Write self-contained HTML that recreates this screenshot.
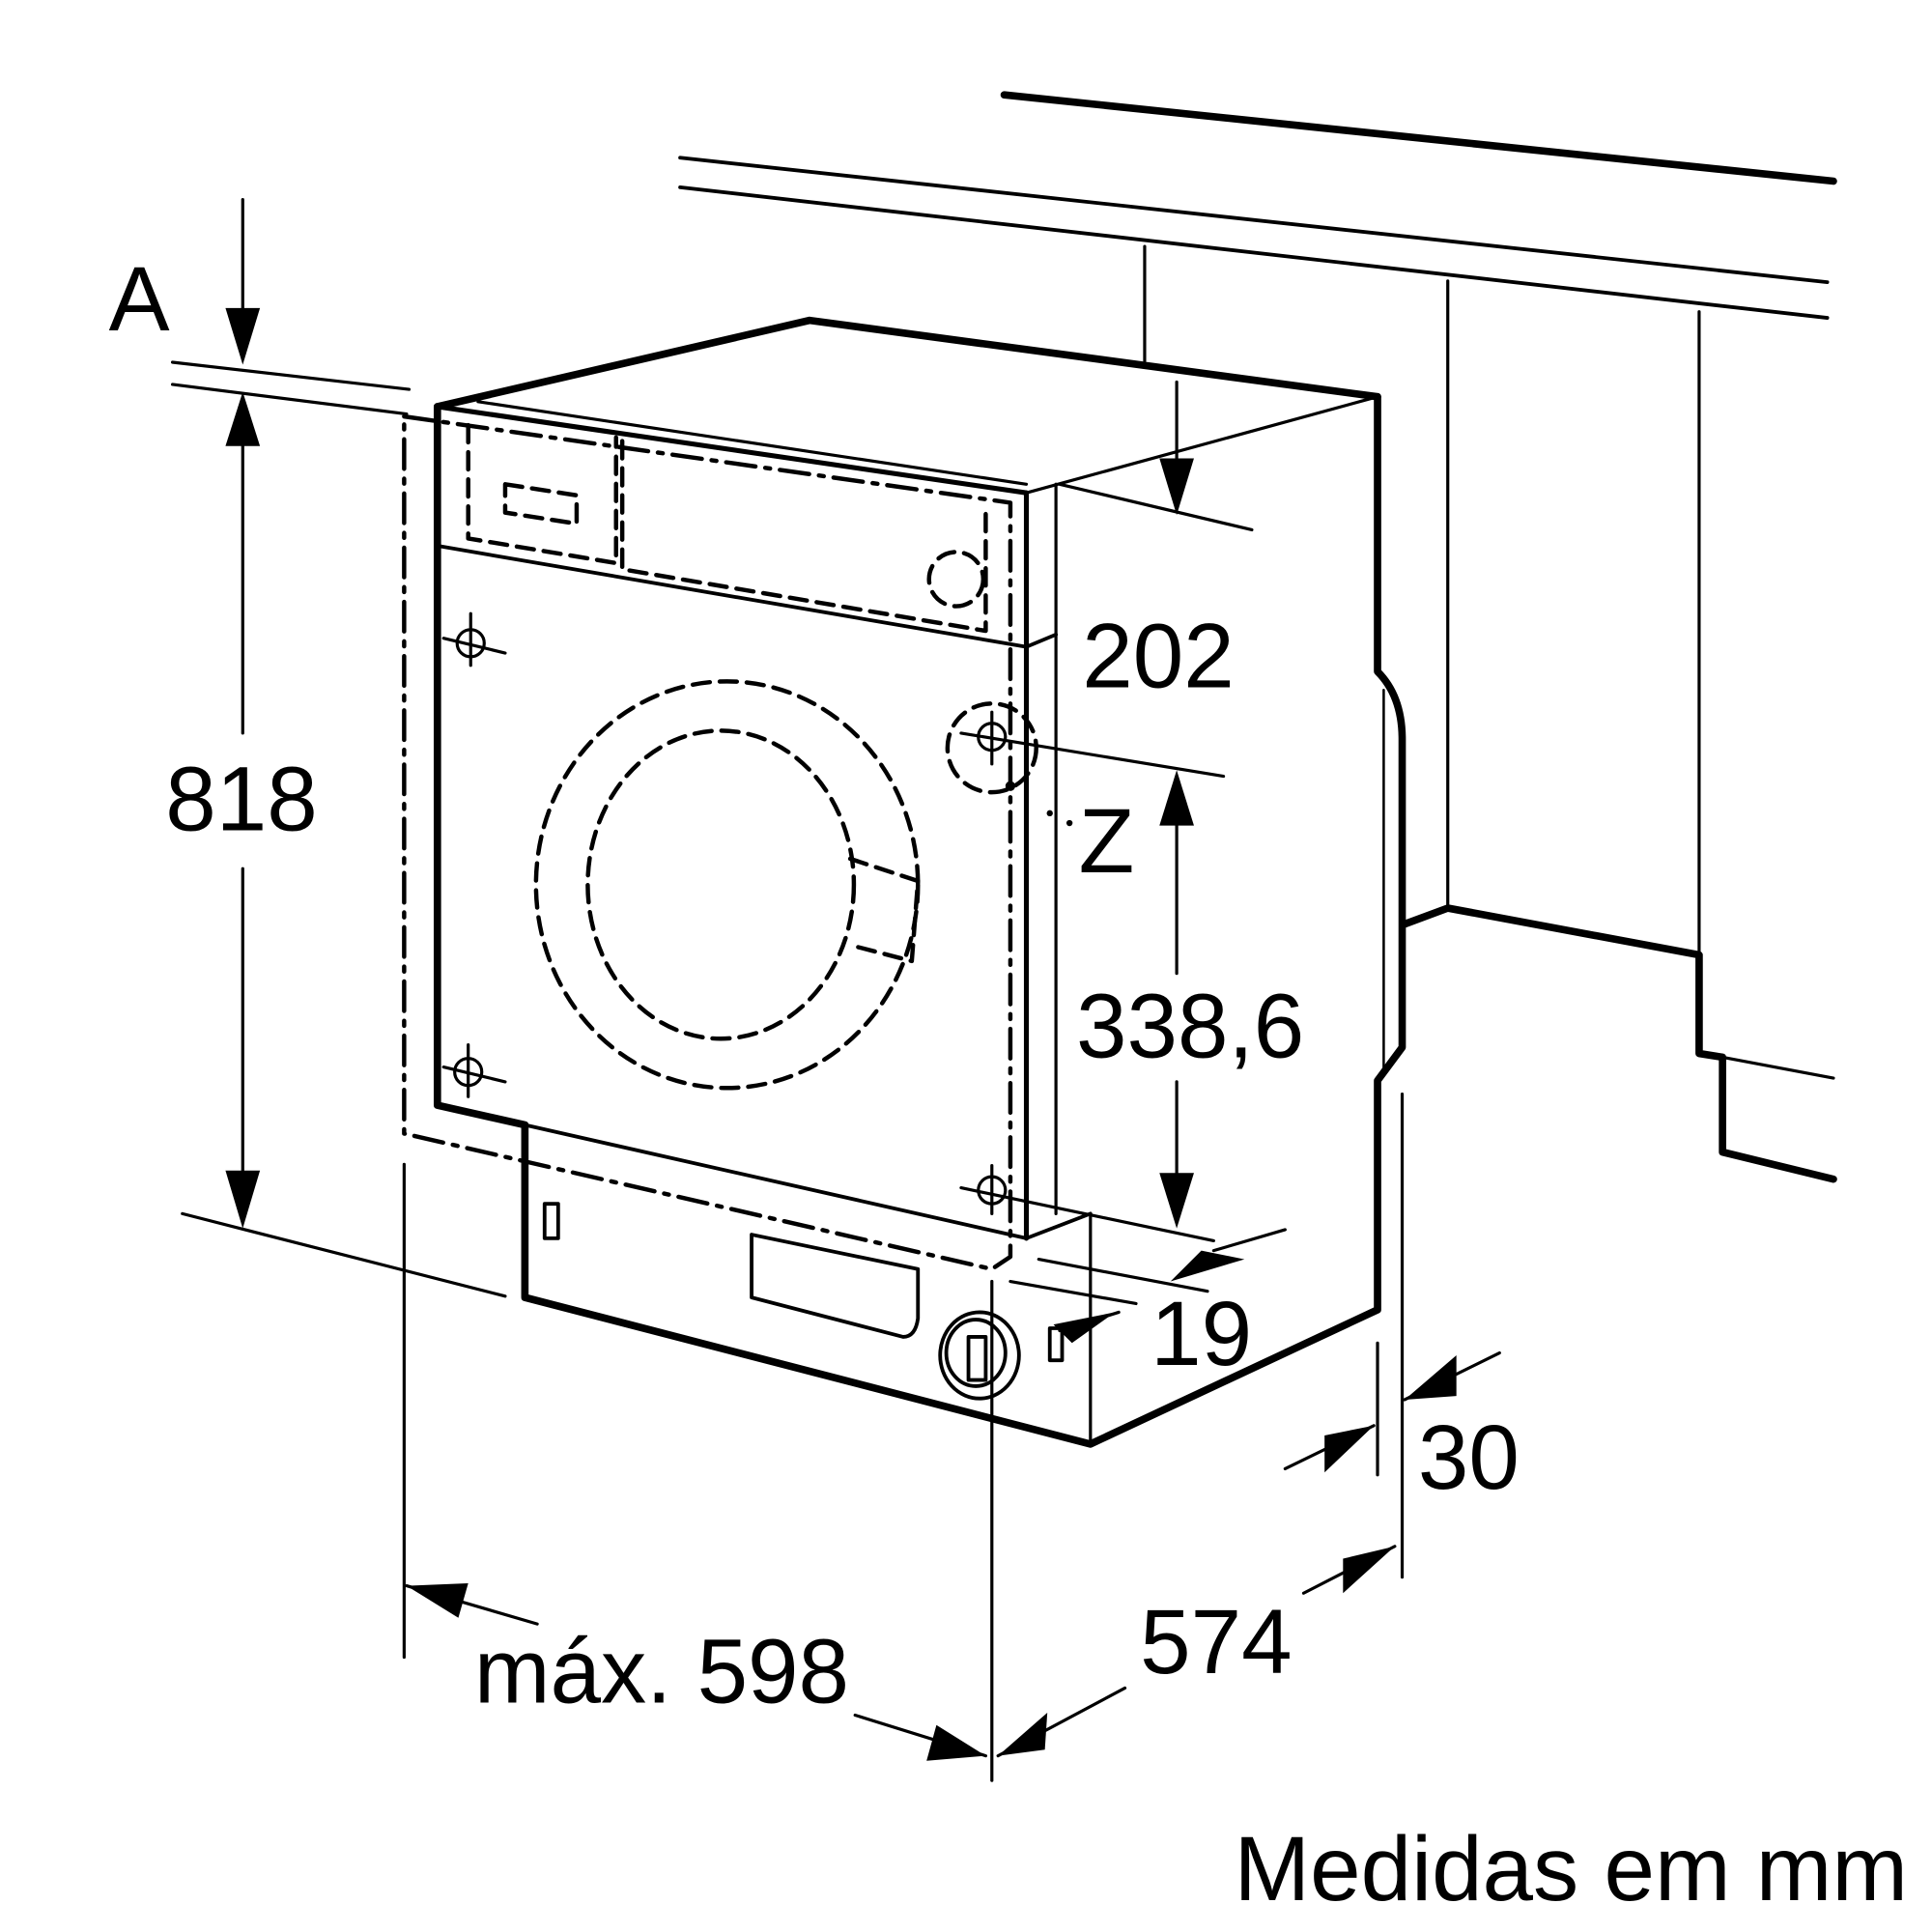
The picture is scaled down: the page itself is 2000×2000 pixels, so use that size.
<!DOCTYPE html>
<html><head><style>html,body{margin:0;padding:0;background:#fff}svg{display:block}</style></head><body>
<svg width="2000" height="2000" viewBox="0 0 1568 1568" xmlns="http://www.w3.org/2000/svg" font-family="Liberation Sans, sans-serif">
<g stroke="#000" fill="none" stroke-linecap="round" stroke-linejoin="round">
<line x1="815" y1="77" x2="1488" y2="147" stroke-width="6"/>
<line x1="552" y1="128" x2="1483" y2="229" stroke-width="3"/>
<line x1="552" y1="152" x2="1483" y2="258" stroke-width="3"/>
<line x1="929" y1="200" x2="929" y2="293" stroke-width="2.5"/>
<line x1="1175" y1="228" x2="1175" y2="737" stroke-width="2.5"/>
<line x1="1379" y1="253" x2="1379" y2="775" stroke-width="2.5"/>
<polyline points="1140,750 1175,737 1379,775 1379,855 1398,858 1398,935 1488,957" stroke-width="6"/>
<line x1="1398" y1="858" x2="1488" y2="875" stroke-width="2.5"/>
<polyline points="355,330 657,260 1118,322" stroke-width="6"/>
<path d="M1118,322 L1118,545 Q1138,565 1138,600 L1138,850 L1118,877 L1118,1063 L885,1172 L426,1053 L426,913 L355,897 L355,330" stroke-width="6"/>
<line x1="355" y1="330" x2="833" y2="400" stroke-width="4"/>
<line x1="388" y1="326" x2="833" y2="393" stroke-width="2.5"/>
<line x1="833" y1="400" x2="1118" y2="322" stroke-width="2.5"/>
<line x1="857" y1="393" x2="857" y2="985" stroke-width="2.5"/>
<line x1="833" y1="400" x2="833" y2="1005" stroke-width="4"/>
<polyline points="355,443 833,525 857,515" stroke-width="3"/>
<polyline points="426,913 833,1005 885,985" stroke-width="3"/>
<line x1="885" y1="985" x2="885" y2="1172" stroke-width="2.5"/>
<line x1="1123" y1="560" x2="1123" y2="870" stroke-width="2"/>
<polyline points="328,338 820,408 820,1020 805,1030 328,920 328,338" stroke-width="3.5" stroke-dasharray="24,8,4,8"/>
<g stroke-width="3.5" stroke-dasharray="14,8">
<polyline points="380,345 380,437 500,457 500,355"/>
<polyline points="505,358 505,462 800,512 800,410"/>
<polygon points="410,393 468,402 468,425 410,416"/>
<circle cx="776" cy="470" r="22"/>
<ellipse cx="590" cy="718" rx="155" ry="165"/>
<ellipse cx="585" cy="718" rx="108" ry="125"/>
<polyline points="690,697 745,715 740,780 690,767"/>
<circle cx="805" cy="607" r="36"/>
</g>
<g stroke-width="2.5">
<circle cx="382" cy="522" r="11"/><line x1="382" y1="498" x2="382" y2="540"/><line x1="360" y1="518" x2="410" y2="530"/>
<circle cx="380" cy="870" r="11"/><line x1="380" y1="848" x2="380" y2="890"/><line x1="360" y1="866" x2="410" y2="878"/>
<circle cx="805" cy="598" r="11"/><line x1="805" y1="578" x2="805" y2="620"/>
<circle cx="805" cy="966" r="11"/><line x1="805" y1="946" x2="805" y2="985"/>
</g>
<rect x="442" y="977" width="11" height="28" stroke-width="3"/>
<path d="M610,1002 L745,1030 L745,1070 Q743,1085 733,1085 L610,1053 Z" stroke-width="3"/>
<ellipse cx="795" cy="1100" rx="32" ry="35" stroke-width="3"/>
<ellipse cx="792" cy="1098" rx="24" ry="27" stroke-width="3"/>
<rect x="786" y="1085" width="14" height="35" stroke-width="3"/>
<rect x="852" y="1078" width="10" height="26" stroke-width="3"/>
<g stroke-width="2.5">
<line x1="140" y1="294" x2="332" y2="316"/>
<line x1="140" y1="312" x2="330" y2="336"/>
<line x1="197" y1="162" x2="197" y2="260"/>
<line x1="197" y1="360" x2="197" y2="595"/>
<line x1="197" y1="705" x2="197" y2="950"/>
<line x1="148" y1="985" x2="410" y2="1052"/>
<line x1="955" y1="310" x2="955" y2="380"/>
<line x1="860" y1="393" x2="1016" y2="430"/>
<line x1="780" y1="595" x2="993" y2="630"/>
<line x1="955" y1="670" x2="955" y2="790"/>
<line x1="955" y1="878" x2="955" y2="955"/>
<line x1="780" y1="964" x2="985" y2="1007"/>
<line x1="843" y1="1022" x2="980" y2="1048"/>
<line x1="820" y1="1040" x2="922" y2="1058"/>
<line x1="985" y1="1015" x2="1043" y2="998"/>
<line x1="860" y1="1080" x2="908" y2="1065"/>
<line x1="328" y1="945" x2="328" y2="1345"/>
<line x1="805" y1="1040" x2="805" y2="1445"/>
<line x1="1118" y1="1090" x2="1118" y2="1197"/>
<line x1="1138" y1="888" x2="1138" y2="1280"/>
<line x1="330" y1="1287" x2="436" y2="1318"/>
<line x1="694" y1="1392" x2="800" y2="1425"/>
<line x1="810" y1="1425" x2="913" y2="1370"/>
<line x1="1058" y1="1293" x2="1132" y2="1255"/>
<line x1="1043" y1="1192" x2="1115" y2="1157"/>
<line x1="1140" y1="1136" x2="1217" y2="1098"/>
</g>
</g>
<g fill="#000">
<polygon points="197,296 183,250 211,250"/>
<polygon points="197,318 183,362 211,362"/>
<polygon points="197,997 183,950 211,950"/>
<polygon points="955,418 941,372 969,372"/>
<polygon points="955,625 941,670 969,670"/>
<polygon points="955,997 941,952 969,952"/>
<polygon points="950,1040 975,1015 1010,1022"/>
<polygon points="905,1065 855,1075 870,1090"/>
<polygon points="330,1287 380,1285 372,1313"/>
<polygon points="800,1425 752,1429 760,1400"/>
<polygon points="810,1425 850,1390 848,1420"/>
<polygon points="1132,1255 1090,1293 1090,1265"/>
<polygon points="1115,1157 1075,1195 1075,1165"/>
<polygon points="1140,1136 1182,1100 1182,1133"/>
<circle cx="820" cy="638" r="4"/><circle cx="852" cy="660" r="2.5"/><circle cx="868" cy="668" r="2.5"/>
</g>
<g font-size="74" fill="#000" text-anchor="middle">
<text x="113" y="268">A</text>
<text x="196" y="674">818</text>
<text x="940" y="558">202</text>
<text x="898" y="708">Z</text>
<text x="966" y="858">338,6</text>
<text x="975" y="1108">19</text>
<text x="1192" y="1208">30</text>
<text x="987" y="1358">574</text>
<text x="537" y="1382">máx. 598</text>
<text x="1275" y="1542">Medidas em mm</text>
</g>
</svg>
</body></html>
